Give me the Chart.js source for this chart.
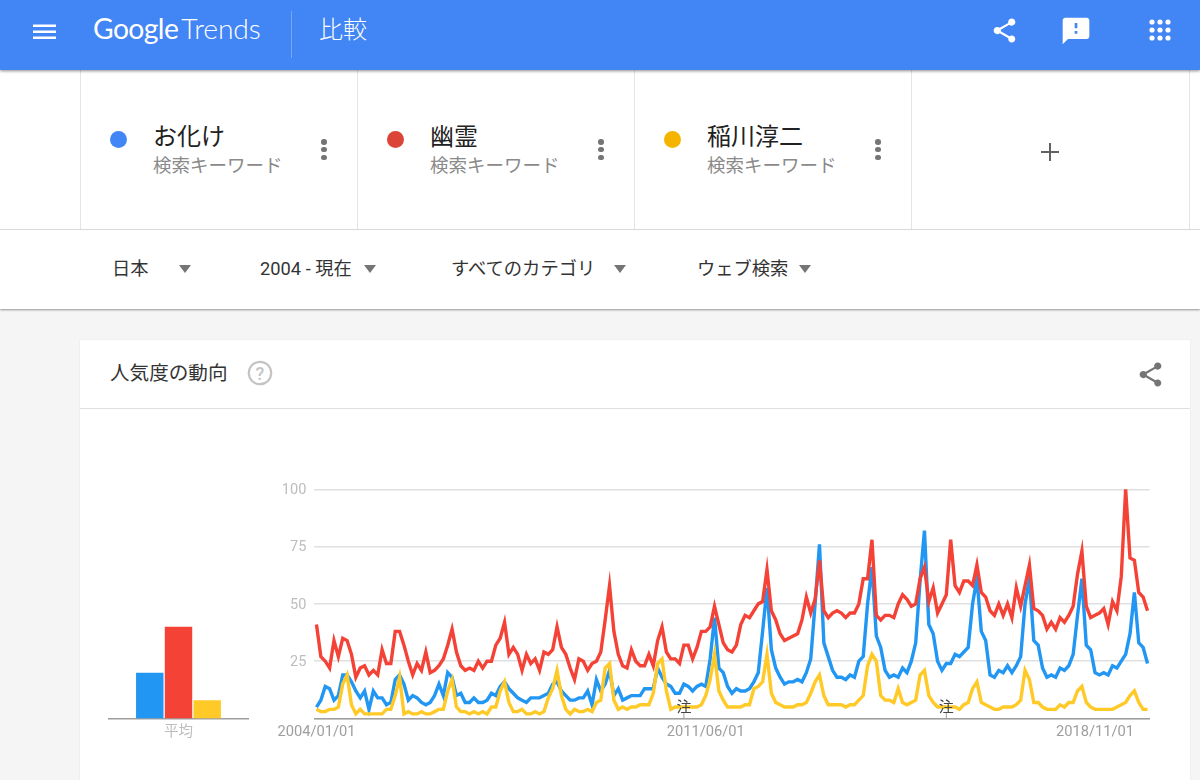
<!DOCTYPE html>
<html lang="ja">
<head>
<meta charset="utf-8">
<title>Google Trends 比較</title>
<script src="https://cdn.jsdelivr.net/npm/chart.js@4"></script>
<style>
html,body{margin:0;padding:0;width:1200px;height:780px;overflow:hidden;background:#f5f5f5;font-family:Roboto,"Noto Sans CJK JP",sans-serif;color:#333}
.abs{position:absolute;white-space:nowrap}
#top{position:absolute;left:0;top:0;width:1200px;height:70px;background:#4285f4;box-shadow:0 1px 3px rgba(0,0,0,.45);z-index:5}
#terms{position:absolute;left:0;top:70px;width:1200px;height:159px;background:#fff;border-bottom:1px solid #e0e0e0}
#filters{position:absolute;left:0;top:230px;width:1200px;height:79px;background:#fff;box-shadow:0 1px 2px rgba(0,0,0,.4)}
#card{position:absolute;left:80px;top:340px;width:1110px;height:440px;background:#fff;box-shadow:0 0 1px rgba(0,0,0,.12)}
.sep{position:absolute;top:70px;width:1px;height:159px;background:#e4e4e4}
.dot{position:absolute;width:17px;height:17px;border-radius:50%;top:130.5px}
.term{position:absolute;top:120px;font-size:24px;line-height:30px;color:#212121;font-family:"Noto Sans CJK JP"}
.sub{position:absolute;top:153px;font-size:18.5px;line-height:22px;color:#8a8a8a;font-family:"Noto Sans CJK JP"}
.more{position:absolute;top:139px;width:5px}
.more i{display:block;width:5.5px;height:5.5px;border-radius:50%;background:#757575;margin-bottom:2.3px}
.flt{position:absolute;top:258px;font-size:18.3px;line-height:22px;color:#333;font-family:Roboto,"Noto Sans CJK JP"}
.tri{position:absolute;top:265px;width:0;height:0;border-left:6.5px solid transparent;border-right:6.5px solid transparent;border-top:8px solid #757575}
canvas{position:absolute}
</style>
</head>
<body>
<div id="top"></div>
<div id="terms"></div>
<div id="filters"></div>
<div id="card"></div>
<div class="sep" style="left:80px"></div>
<div class="sep" style="left:357px"></div>
<div class="sep" style="left:634px"></div>
<div class="sep" style="left:911px"></div>
<div class="sep" style="left:1189px"></div>

<svg class="abs" style="left:33px;top:22px;z-index:6" width="24" height="18"><path d="M0 2.5h23v2.4H0zM0 8.5h23v2.4H0zM0 14.5h23v2.4H0z" fill="#fff"/></svg>
<div class="abs" style="left:93px;top:10px;font:400 28.3px/36px Lato,sans-serif;color:#fff;z-index:6;letter-spacing:-.6px">Google<span style="margin-left:3px;font-weight:300;letter-spacing:-.1px">Trends</span></div>
<div class="abs" style="left:291px;top:11px;width:1px;height:47px;background:rgba(255,255,255,.28);z-index:6"></div>
<div class="abs" style="left:319px;top:11px;font:300 24px/34px 'Noto Sans CJK JP';color:#fff;z-index:6">比較</div>
<svg class="abs" style="left:990px;top:16px;z-index:6" width="29" height="29" viewBox="0 0 24 24"><path fill="#fff" d="M18 16.08c-.76 0-1.44.3-1.96.77L8.91 12.7c.05-.23.09-.46.09-.7s-.04-.47-.09-.7l7.05-4.11c.54.5 1.25.81 2.04.81 1.66 0 3-1.34 3-3s-1.34-3-3-3-3 1.34-3 3c0 .24.04.47.09.7L8.04 9.81C7.5 9.31 6.79 9 6 9c-1.66 0-3 1.34-3 3s1.34 3 3 3c.79 0 1.5-.31 2.04-.81l7.12 4.16c-.05.21-.08.43-.08.65 0 1.61 1.31 2.92 2.92 2.92s2.92-1.31 2.92-2.92-1.31-2.92-2.92-2.92z"/></svg>
<svg class="abs" style="left:1060px;top:15px;z-index:6" width="32" height="32" viewBox="0 0 24 24"><path fill="#fff" d="M20 2H4c-1.1 0-1.99.9-1.99 2L2 22l4-4h14c1.1 0 2-.9 2-2V4c0-1.1-.9-2-2-2zm-7 12h-2v-2h2v2zm0-4h-2V6h2v4z"/></svg>
<svg class="abs" style="left:1149px;top:19px;z-index:6" width="22" height="22"><g fill="#fff"><circle cx="3" cy="3" r="2.6"/><circle cx="11" cy="3" r="2.6"/><circle cx="19" cy="3" r="2.6"/><circle cx="3" cy="11" r="2.6"/><circle cx="11" cy="11" r="2.6"/><circle cx="19" cy="11" r="2.6"/><circle cx="3" cy="19" r="2.6"/><circle cx="11" cy="19" r="2.6"/><circle cx="19" cy="19" r="2.6"/></g></svg>

<div class="dot" style="left:110px;background:#4285f4"></div>
<div class="term" style="left:153px">お化け</div>
<div class="sub" style="left:153px">検索キーワード</div>
<div class="more" style="left:321px"><i></i><i></i><i></i></div>
<div class="dot" style="left:387px;background:#db4437"></div>
<div class="term" style="left:430px">幽霊</div>
<div class="sub" style="left:430px">検索キーワード</div>
<div class="more" style="left:598px"><i></i><i></i><i></i></div>
<div class="dot" style="left:664px;background:#f4b400"></div>
<div class="term" style="left:707px">稲川淳二</div>
<div class="sub" style="left:707px">検索キーワード</div>
<div class="more" style="left:875px"><i></i><i></i><i></i></div>
<svg class="abs" style="left:1041px;top:143px" width="18" height="18"><path d="M8 0h2v8h8v2h-8v8H8v-8H0V8h8z" fill="#616161"/></svg>

<div class="flt" style="left:112px">日本</div><div class="tri" style="left:179px"></div>
<div class="flt" style="left:260px">2004 - 現在</div><div class="tri" style="left:364px"></div>
<div class="flt" style="left:451px">すべてのカテゴリ</div><div class="tri" style="left:614px"></div>
<div class="flt" style="left:697px">ウェブ検索</div><div class="tri" style="left:799px"></div>

<div class="abs" style="left:110px;top:359px;font:19.6px/26px 'Noto Sans CJK JP';color:#333">人気度の動向</div>
<svg class="abs" style="left:247px;top:360px" width="26" height="26"><circle cx="13" cy="13" r="11.2" fill="none" stroke="#c4c4c4" stroke-width="2.2"/><text x="13" y="19.5" text-anchor="middle" font-family="Roboto" font-size="18" font-weight="500" fill="#c4c4c4">?</text></svg>
<svg class="abs" style="left:1136px;top:360px" width="29" height="29" viewBox="0 0 24 24"><path fill="#757575" d="M18 16.08c-.76 0-1.44.3-1.96.77L8.91 12.7c.05-.23.09-.46.09-.7s-.04-.47-.09-.7l7.05-4.11c.54.5 1.25.81 2.04.81 1.66 0 3-1.34 3-3s-1.34-3-3-3-3 1.34-3 3c0 .24.04.47.09.7L8.04 9.81C7.5 9.31 6.79 9 6 9c-1.66 0-3 1.34-3 3s1.34 3 3 3c.79 0 1.5-.31 2.04-.81l7.12 4.16c-.05.21-.08.43-.08.65 0 1.61 1.31 2.92 2.92 2.92s2.92-1.31 2.92-2.92-1.31-2.92-2.92-2.92z"/></svg>
<div class="abs" style="left:80px;top:408px;width:1110px;height:1px;background:#e0e0e0"></div>

<canvas id="avgChart" style="left:100px;top:470px" width="160" height="280"></canvas>
<canvas id="lineChart" style="left:260px;top:470px" width="930" height="280"></canvas>

<script>
const categories = [
"2004/01/01","2004/02/01","2004/03/01","2004/04/01","2004/05/01","2004/06/01","2004/07/01","2004/08/01","2004/09/01","2004/10/01","2004/11/01","2004/12/01",
"2005/01/01","2005/02/01","2005/03/01","2005/04/01","2005/05/01","2005/06/01","2005/07/01","2005/08/01","2005/09/01","2005/10/01","2005/11/01","2005/12/01",
"2006/01/01","2006/02/01","2006/03/01","2006/04/01","2006/05/01","2006/06/01","2006/07/01","2006/08/01","2006/09/01","2006/10/01","2006/11/01","2006/12/01",
"2007/01/01","2007/02/01","2007/03/01","2007/04/01","2007/05/01","2007/06/01","2007/07/01","2007/08/01","2007/09/01","2007/10/01","2007/11/01","2007/12/01",
"2008/01/01","2008/02/01","2008/03/01","2008/04/01","2008/05/01","2008/06/01","2008/07/01","2008/08/01","2008/09/01","2008/10/01","2008/11/01","2008/12/01",
"2009/01/01","2009/02/01","2009/03/01","2009/04/01","2009/05/01","2009/06/01","2009/07/01","2009/08/01","2009/09/01","2009/10/01","2009/11/01","2009/12/01",
"2010/01/01","2010/02/01","2010/03/01","2010/04/01","2010/05/01","2010/06/01","2010/07/01","2010/08/01","2010/09/01","2010/10/01","2010/11/01","2010/12/01",
"2011/01/01","2011/02/01","2011/03/01","2011/04/01","2011/05/01","2011/06/01","2011/07/01","2011/08/01","2011/09/01","2011/10/01","2011/11/01","2011/12/01",
"2012/01/01","2012/02/01","2012/03/01","2012/04/01","2012/05/01","2012/06/01","2012/07/01","2012/08/01","2012/09/01","2012/10/01","2012/11/01","2012/12/01",
"2013/01/01","2013/02/01","2013/03/01","2013/04/01","2013/05/01","2013/06/01","2013/07/01","2013/08/01","2013/09/01","2013/10/01","2013/11/01","2013/12/01",
"2014/01/01","2014/02/01","2014/03/01","2014/04/01","2014/05/01","2014/06/01","2014/07/01","2014/08/01","2014/09/01","2014/10/01","2014/11/01","2014/12/01",
"2015/01/01","2015/02/01","2015/03/01","2015/04/01","2015/05/01","2015/06/01","2015/07/01","2015/08/01","2015/09/01","2015/10/01","2015/11/01","2015/12/01",
"2016/01/01","2016/02/01","2016/03/01","2016/04/01","2016/05/01","2016/06/01","2016/07/01","2016/08/01","2016/09/01","2016/10/01","2016/11/01","2016/12/01",
"2017/01/01","2017/02/01","2017/03/01","2017/04/01","2017/05/01","2017/06/01","2017/07/01","2017/08/01","2017/09/01","2017/10/01","2017/11/01","2017/12/01",
"2018/01/01","2018/02/01","2018/03/01","2018/04/01","2018/05/01","2018/06/01","2018/07/01","2018/08/01","2018/09/01","2018/10/01","2018/11/01","2018/12/01",
"2019/01/01","2019/02/01","2019/03/01","2019/04/01","2019/05/01","2019/06/01","2019/07/01","2019/08/01","2019/09/01","2019/10/01","2019/11/01"];

const obake = [
5,8,14,13,8,10,19,19,16,12,9,12,4,12,9,9,6,7,17,19,15,8,10,9,7,6,7,10,15,10,20,18,10,11,7,7,9,7,7,8,11,10,14,16,13,11,9,8,7,9,9,9,10,11,15,16,12,10,8,
8,9,9,12,6,17,12,15,21,10,13,8,9,10,10,10,13,13,13,22,18,15,14,11,11,15,14,12,14,15,14,26,44,22,20,14,11,13,12,12,13,16,20,38,57,30,22,18,15,16,16,17,16,20,26,50,76,33,27,21,18,18,17,19,18,25,
27,50,66,36,31,21,18,19,18,22,20,25,33,60,82,41,37,25,21,24,24,28,27,29,31,50,61,38,34,19,18,21,20,23,20,23,27,50,61,34,32,22,18,19,18,22,21,23,28,45,61,32,30,20,19,20,19,23,22,25,28,37,55,33,31,24];

const yurei = [
41,27,25,22,34,27,35,34,28,18,22,23,19,21,19,30,24,24,38,38,32,25,19,24,21,29,20,21,23,26,32,39,29,23,21,22,21,25,22,25,25,32,35,42,28,31,28,21,28,24,26,21,29,28,30,40,31,28,22,
17,26,25,21,24,25,29,43,58,38,28,23,22,30,25,23,23,28,23,34,40,29,26,26,24,32,32,26,31,38,38,40,49,41,33,30,29,32,41,45,44,47,50,51,65,47,43,37,34,35,36,37,43,53,46,52,69,47,44,46,47,46,44,46,46,50,
61,61,78,45,43,45,45,44,50,54,52,49,50,61,66,51,57,46,50,54,78,58,55,60,60,58,67,55,53,47,45,50,45,50,44,57,49,58,67,48,47,45,39,42,39,44,42,45,49,63,73,49,44,45,46,48,41,51,47,62,100,70,69,55,53,47];

const inagawa = [
4,3,3,4,4,5,15,19,6,2,4,2,2,2,2,2,4,4,10,18,2,3,2,2,3,2,2,3,4,4,12,17,5,3,3,2,3,2,3,2,5,5,12,16,7,3,3,4,2,2,3,2,3,9,13,21,10,4,2,
4,3,3,4,3,7,8,22,24,8,4,5,4,5,5,6,6,6,11,24,26,12,4,5,5,5,5,5,5,6,10,17,28,12,8,5,5,5,5,6,6,13,14,16,28,11,7,6,5,5,5,6,6,7,11,16,19,10,6,6,6,6,5,6,6,8,
10,23,28,25,10,8,8,7,13,7,6,7,8,19,21,10,7,5,5,5,5,5,4,6,7,13,16,7,6,5,4,4,5,5,5,6,8,21,17,7,7,5,4,4,4,6,5,7,7,12,14,7,5,4,4,4,4,4,5,6,7,10,12,7,4,4];

const seriesNames = ["お化け","幽霊","稲川淳二"];
const averages = [20,40,8];
const averageLabel = ["平均"];
const xTickLabels = ["2004/01/01","2011/06/01","2018/11/01"];
const yTickValues = [25,50,75,100];
const noteDates = ["2011/01/01","2016/01/01"];
const noteText = "注";

const BLUE="#2196f3", RED="#f44336", YELLOW="#ffca28";
Chart.defaults.animation=false;
Chart.defaults.font.family='Roboto,"Noto Sans CJK JP",sans-serif';

const notesPlugin={id:"notes",afterDatasetsDraw(c){
  const g=c.ctx,x=c.scales.x,b=c.chartArea.bottom;
  g.save();
  noteDates.forEach(d=>{
    const px=x.getPixelForValue(categories.indexOf(d));
    g.strokeStyle="#9e9e9e";g.lineWidth=1;
    g.beginPath();g.moveTo(px,b-6);g.lineTo(px,b);g.stroke();
    g.fillStyle="#444";g.font='15px "Noto Sans CJK JP"';g.textAlign="center";g.textBaseline="bottom";
    g.fillText(noteText,px,b-5);
  });
  g.restore();
}};

function lineSet(name,data,color,order){
  return {label:name,data:data,borderColor:color,backgroundColor:color,borderWidth:3.4,pointRadius:0,tension:0,clip:false,order:order,borderJoinStyle:"miter"};
}

new Chart(document.getElementById("lineChart"),{
  type:"line",
  data:{labels:categories,datasets:[
    lineSet(seriesNames[0],obake,BLUE,3),
    lineSet(seriesNames[1],yurei,RED,2),
    lineSet(seriesNames[2],inagawa,YELLOW,1)
  ]},
  plugins:[notesPlugin],
  options:{
    responsive:false,
    layout:{padding:{left:0,right:40.3,top:19.3,bottom:0}},
    plugins:{legend:{display:false},tooltip:{enabled:false}},
    scales:{
      x:{
        offset:true,
        grid:{display:false,drawTicks:false},
        border:{color:"#9e9e9e",width:1.5},
        afterFit(s){s.height=31.5;},
        ticks:{autoSkip:false,maxRotation:0,minRotation:0,padding:5,color:"#9e9e9e",font:{size:14.7},
          callback(v){const l=categories[v];return xTickLabels.includes(l)?l:"";}}
      },
      y:{
        min:0,max:100,
        afterFit(s){s.width=54.3;},
        afterBuildTicks(s){s.ticks=[0].concat(yTickValues).map(v=>({value:v}));},
        border:{display:false},
        grid:{color:"#e0e0e0",lineWidth:1.5,drawTicks:false},
        ticks:{padding:8,color:"#bdbdbd",font:{size:14.5},labelOffset:1,callback(v){return v===0?"":v;}}
      }
    }
  }
});

new Chart(document.getElementById("avgChart"),{
  type:"bar",
  data:{labels:averageLabel,datasets:[
    {label:seriesNames[0],data:[averages[0]],backgroundColor:BLUE},
    {label:seriesNames[1],data:[averages[1]],backgroundColor:RED},
    {label:seriesNames[2],data:[averages[2]],backgroundColor:YELLOW}
  ]},
  options:{
    responsive:false,
    layout:{padding:{left:9,right:12,top:19.3,bottom:0}},
    plugins:{legend:{display:false},tooltip:{enabled:false}},
    scales:{
      x:{
        grid:{display:false,drawTicks:false},
        border:{color:"#9e9e9e",width:1.5},
        afterFit(s){s.height=31.5;},
        ticks:{padding:3,color:"#bdbdbd",font:{size:14.5,family:'"Noto Sans CJK JP"'}}
      },
      y:{min:0,max:100,display:false}
    },
    datasets:{bar:{categoryPercentage:.62,barPercentage:.955}}
  }
});
</script>
</body>
</html>
